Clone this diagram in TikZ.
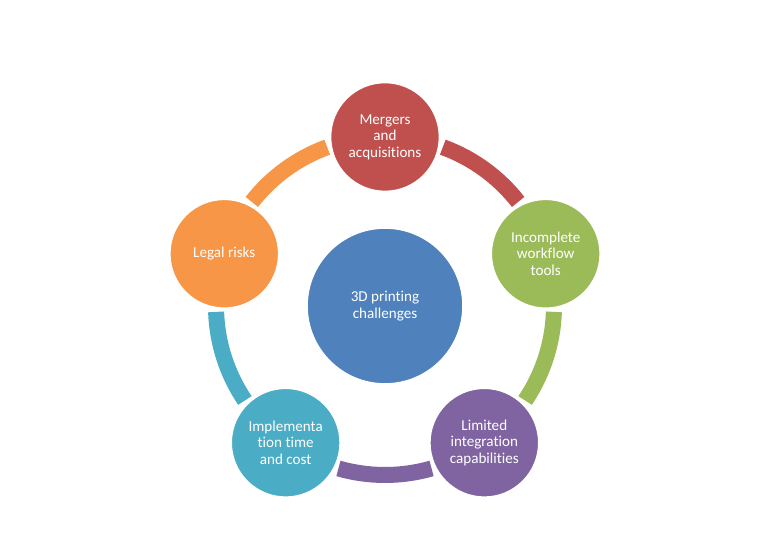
\documentclass[tikz,border=0pt]{standalone}
\usepackage{fontspec}
\setmainfont{Carlito}[Ligatures=NoCommon]
\usetikzlibrary{backgrounds}
\definecolor{cRed}{HTML}{C0504D}
\definecolor{cGreen}{HTML}{9BBB59}
\definecolor{cPurple}{HTML}{8064A2}
\definecolor{cAqua}{HTML}{4BACC6}
\definecolor{cOrange}{HTML}{F79646}
\definecolor{cBlue}{HTML}{4F81BD}
\begin{document}
\begin{tikzpicture}[main/.style={circle, draw=white, line width=1.5pt, minimum size=2.2cm, inner sep=0pt, text=white, align=center, font=\fontsize{8.6}{9.4}\selectfont}, hub/.style={main, minimum size=3.14cm}, ring/.style={line width=0.32cm}]
    \useasboundingbox (0,0) rectangle (15.4,10.8);

    \node[hub, fill=cBlue] (hub) at (7.7,4.68) {3D printing\\challenges};
    \node[main, fill=cRed] (merg) at ([shift={(90:3.38)}]hub.center) {Mergers\\and\\acquisitions};
    \node[main, fill=cGreen] (work) at ([shift={(18:3.38)}]hub.center) {Incomplete\\workflow\\tools};
    \node[main, fill=cPurple] (integ) at ([shift={(-54:3.38)}]hub.center) {Limited\\integration\\capabilities};
    \node[main, fill=cAqua] (impl) at ([shift={(-126:3.38)}]hub.center) {Implementa\\tion time\\and cost};
    \node[main, fill=cOrange] (legal) at ([shift={(162:3.38)}]hub.center) {Legal risks};

    % ring pieces between the outer circles
    \begin{scope}[on background layer]
        \draw[ring, cRed] ([shift={(70:3.38)}]hub.center) arc[start angle=70, end angle=38, radius=3.38];
        \draw[ring, cGreen] ([shift={(-2:3.38)}]hub.center) arc[start angle=-2, end angle=-34, radius=3.38];
        \draw[ring, cPurple] ([shift={(-74:3.38)}]hub.center) arc[start angle=-74, end angle=-106, radius=3.38];
        \draw[ring, cAqua] ([shift={(-146:3.38)}]hub.center) arc[start angle=-146, end angle=-178, radius=3.38];
        \draw[ring, cOrange] ([shift={(142:3.38)}]hub.center) arc[start angle=142, end angle=110, radius=3.38];
    \end{scope}
\end{tikzpicture}
\end{document}
